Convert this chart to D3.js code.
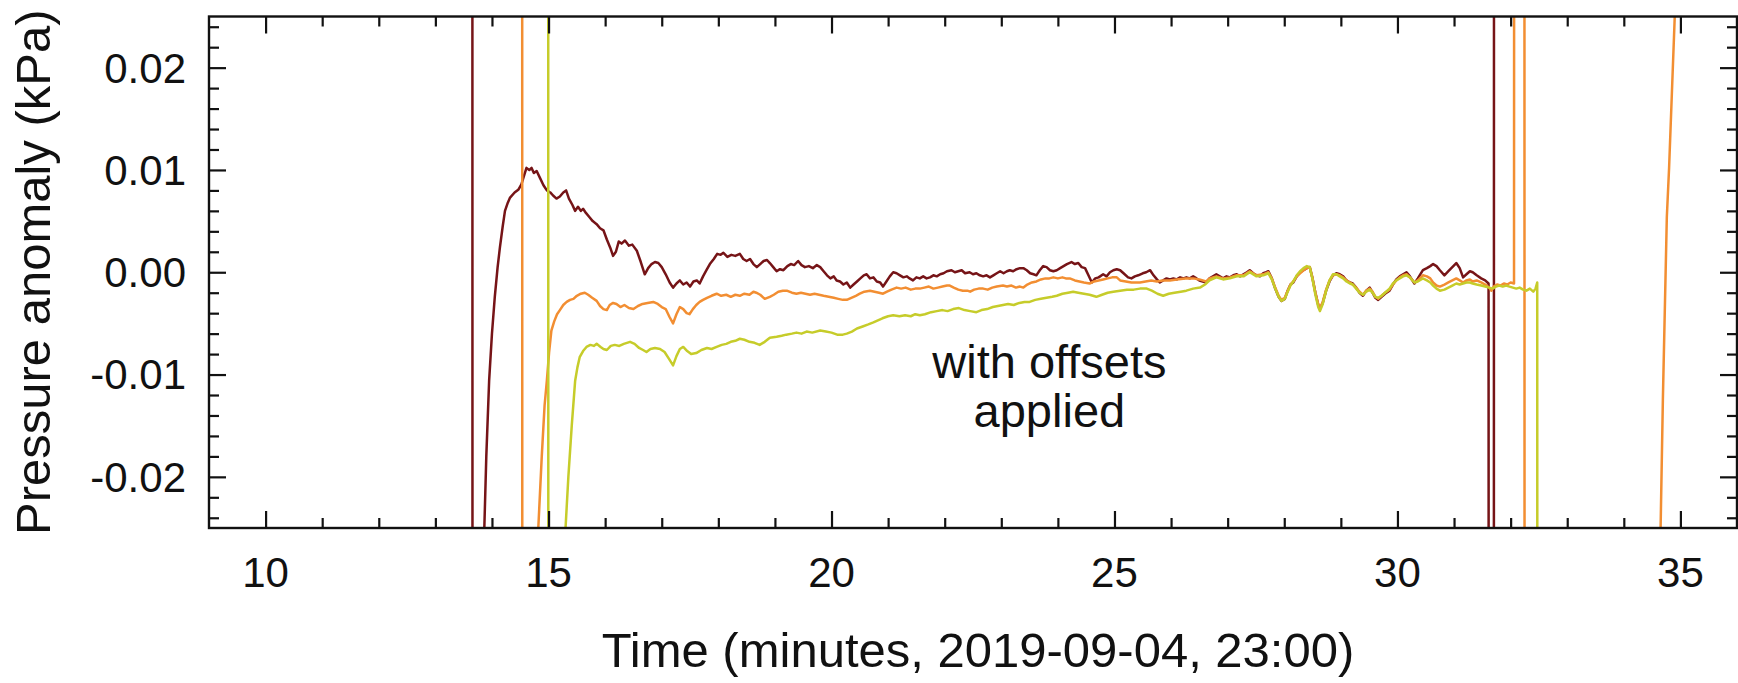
<!DOCTYPE html>
<html><head><meta charset="utf-8">
<script src="https://cdn.jsdelivr.net/npm/d3@7"></script>
<style>
html,body{margin:0;padding:0;background:#fff;}
text{font-family:"Liberation Sans",Arial,sans-serif;fill:#111;}
</style></head>
<body><svg id="chart" width="1738" height="683"></svg>
<script>
// ---- data (time in minutes after 23:00, pressure anomaly in kPa) ----
// values beyond +/-0.2 represent off-scale raw data (clipped by the plot frame)
const xTickValues = [10, 15, 20, 25, 30, 35];
const yTickValues = [-0.02, -0.01, 0.00, 0.01, 0.02];
const xTickLabels = ["10", "15", "20", "25", "30", "35"];
const yTickLabels = ["-0.02", "-0.01", "0.00", "0.01", "0.02"];
const seriesNames = ["sensor A", "sensor B", "sensor C"];
const seriesColors = ["#761417", "#f28e32", "#c6cc2a"];
const annotationLines = ["with offsets", "applied"];

const timeA = [12.5,13.65,13.66,13.80,13.86,13.90,13.95,14.00,14.05,14.10,14.14,14.19,14.23,14.28,14.32,14.40,14.47,14.52,14.57,14.61,14.66,14.70,14.74,14.79,14.85,14.91,14.97,15.03,15.08,15.14,15.20,15.26,15.31,15.36,15.42,15.47,15.52,15.57,15.61,15.66,15.72,15.78,15.85,15.91,15.97,16.03,16.09,16.14,16.19,16.24,16.29,16.35,16.42,16.48,16.56,16.63,16.70,16.76,16.82,16.88,16.94,17.00,17.07,17.14,17.20,17.26,17.32,17.38,17.44,17.50,17.56,17.62,17.67,17.73,17.79,17.85,17.92,17.98,18.04,18.09,18.16,18.23,18.30,18.38,18.44,18.50,18.56,18.62,18.68,18.74,18.80,18.86,18.91,18.97,19.03,19.09,19.15,19.22,19.28,19.34,19.41,19.47,19.53,19.60,19.67,19.74,19.80,19.86,19.92,19.98,20.04,20.09,20.15,20.21,20.27,20.33,20.39,20.45,20.51,20.57,20.62,20.68,20.74,20.80,20.86,20.91,20.97,21.03,21.09,21.15,21.21,21.27,21.33,21.38,21.44,21.50,21.56,21.62,21.68,21.74,21.80,21.86,21.92,21.98,22.04,22.12,22.18,22.24,22.30,22.36,22.44,22.50,22.56,22.62,22.68,22.74,22.80,22.86,22.92,22.98,23.04,23.10,23.15,23.21,23.27,23.33,23.39,23.45,23.51,23.57,23.62,23.68,23.74,23.80,23.86,23.92,23.98,24.04,24.10,24.16,24.24,24.30,24.36,24.42,24.48,24.54,24.60,24.66,24.72,24.80,24.86,24.92,24.98,25.04,25.10,25.16,25.24,25.30,25.36,25.42,25.50,25.56,25.63,25.69,25.75,25.80,25.86,25.92,25.98,26.04,26.10,26.16,26.22,26.27,26.33,26.39,26.45,26.50,26.56,26.62,26.68,26.74,26.80,26.86,26.92,26.98,27.04,27.10,27.16,27.22,27.28,27.34,27.39,27.45,27.51,27.57,27.63,27.68,27.72,27.78,27.84,27.90,27.95,28.01,28.06,28.11,28.16,28.22,28.28,28.34,28.40,28.45,28.50,28.55,28.60,28.63,28.68,28.74,28.80,28.86,28.92,28.98,29.04,29.10,29.16,29.21,29.27,29.33,29.39,29.45,29.51,29.56,29.61,29.66,29.72,29.78,29.86,29.92,29.98,30.04,30.10,30.16,30.22,30.30,30.36,30.45,30.52,30.58,30.63,30.69,30.75,30.83,30.90,30.97,31.04,31.10,31.16,31.22,31.28,31.33,31.40,31.48,31.55,31.61,31.62,31.70,31.71,33.0];
const valueA = [0.2,0.2,-0.2,-0.2,-0.026,-0.018,-0.0106,-0.006,-0.0024,0.0005,0.0024,0.0045,0.0060,0.0068,0.0073,0.0078,0.0081,0.0086,0.0095,0.0102,0.0100,0.0102,0.0097,0.0099,0.0092,0.0085,0.0080,0.0078,0.0075,0.0072,0.0074,0.0078,0.0080,0.0072,0.0066,0.0060,0.0064,0.0060,0.0062,0.0058,0.0054,0.0050,0.0047,0.0043,0.0041,0.0032,0.0024,0.0016,0.0020,0.0030,0.0028,0.0031,0.0026,0.0027,0.0021,0.0010,-0.0002,0.0004,0.0008,0.0010,0.0009,0.0005,-0.0002,-0.0010,-0.0015,-0.0011,-0.0008,-0.0012,-0.0010,-0.0014,-0.0009,-0.0008,-0.0011,-0.0004,0.0002,0.0008,0.0013,0.0018,0.0017,0.0019,0.0015,0.0017,0.0016,0.0018,0.0013,0.0011,0.0013,0.0008,0.0005,0.0008,0.0011,0.0012,0.0009,0.0005,0.0001,0.0003,0.0002,0.0006,0.0008,0.0007,0.0011,0.0007,0.0005,0.0006,0.0004,0.0007,0.0005,0.0001,-0.0003,-0.0006,-0.0004,-0.0008,-0.0009,-0.0012,-0.0010,-0.0015,-0.0012,-0.0009,-0.0006,-0.0003,-0.0002,-0.0006,-0.0005,-0.0009,-0.0010,-0.0014,-0.0009,-0.0004,0.0000,-0.0001,-0.0003,-0.0005,-0.0004,-0.0006,-0.0008,-0.0005,-0.0006,-0.0004,-0.0006,-0.0005,-0.0003,-0.0004,-0.0002,-0.0001,0.0001,0.0002,0.0000,0.0001,0.0002,-0.0001,0.0000,-0.0002,-0.0001,-0.0003,-0.0004,-0.0003,-0.0005,-0.0003,-0.0001,0.0001,-0.0001,0.0001,0.0002,0.0001,0.0003,0.0004,0.0004,0.0002,-0.0001,-0.0002,-0.0003,0.0002,0.0006,0.0005,0.0002,0.0001,0.0002,0.0004,0.0006,0.0008,0.0010,0.0008,0.0009,0.0005,0.0004,-0.0003,-0.0010,-0.0006,-0.0005,-0.0002,-0.0004,0.0000,0.0002,0.0003,0.0002,-0.0001,-0.0005,-0.0006,-0.0004,-0.0003,-0.0001,0.0000,0.0002,-0.0003,-0.0007,-0.0010,-0.0008,-0.0006,-0.0007,-0.0006,-0.0007,-0.0005,-0.0006,-0.0005,-0.0006,-0.0004,-0.0006,-0.0008,-0.0009,-0.0010,-0.0006,-0.0004,-0.0002,-0.0004,-0.0006,-0.0004,-0.0005,-0.0003,-0.0002,-0.0004,-0.0002,0.0000,0.0002,-0.0001,-0.0003,-0.0004,-0.0001,0.0000,0.0001,-0.0006,-0.0016,-0.0024,-0.0028,-0.0026,-0.0018,-0.0012,-0.0010,-0.0004,0.0000,0.0002,0.0004,0.0005,-0.0006,-0.0020,-0.0032,-0.0036,-0.0030,-0.0018,-0.0009,-0.0003,-0.0001,-0.0002,-0.0004,-0.0008,-0.0010,-0.0011,-0.0015,-0.0020,-0.0023,-0.0018,-0.0015,-0.0020,-0.0025,-0.0027,-0.0024,-0.0021,-0.0018,-0.0012,-0.0007,-0.0004,-0.0002,0.0000,-0.0004,-0.0011,-0.0006,0.0002,0.0004,0.0006,0.0008,0.0006,0.0002,-0.0003,0.0001,0.0005,0.0009,0.0004,-0.0005,-0.0002,0.0001,0.0000,-0.0003,-0.0006,-0.0008,-0.0011,-0.2,-0.2,0.2,0.2];

const timeB = [13.5,14.53,14.54,14.75,14.81,14.88,14.93,14.97,15.01,15.05,15.10,15.15,15.20,15.26,15.32,15.38,15.44,15.50,15.57,15.64,15.70,15.77,15.85,15.91,15.97,16.03,16.08,16.14,16.20,16.27,16.34,16.42,16.50,16.58,16.66,16.75,16.85,16.93,17.00,17.07,17.14,17.20,17.26,17.32,17.38,17.44,17.49,17.55,17.61,17.67,17.73,17.80,17.88,17.97,18.05,18.14,18.22,18.30,18.38,18.46,18.55,18.62,18.67,18.74,18.82,18.91,18.98,19.06,19.14,19.21,19.30,19.38,19.46,19.54,19.62,19.70,19.78,19.86,19.95,20.04,20.12,20.20,20.27,20.35,20.43,20.50,20.58,20.68,20.76,20.84,20.91,20.98,21.06,21.15,21.23,21.31,21.40,21.48,21.56,21.64,21.72,21.80,21.88,21.96,22.04,22.09,22.16,22.24,22.32,22.40,22.45,22.52,22.60,22.68,22.76,22.84,22.92,23.03,23.10,23.18,23.26,23.33,23.39,23.46,23.54,23.62,23.70,23.78,23.85,23.92,24.00,24.08,24.14,24.21,24.30,24.38,24.46,24.56,24.64,24.72,24.80,24.88,24.96,25.04,25.10,25.20,25.30,25.45,25.55,25.65,25.75,25.85,25.98,26.10,26.25,26.39,26.50,26.62,26.68,26.80,26.92,27.04,27.16,27.28,27.39,27.51,27.63,27.72,27.78,27.84,27.90,27.95,28.01,28.06,28.11,28.16,28.22,28.28,28.34,28.40,28.45,28.50,28.55,28.60,28.63,28.68,28.74,28.80,28.86,28.92,28.98,29.04,29.10,29.16,29.21,29.27,29.33,29.39,29.45,29.51,29.56,29.61,29.66,29.72,29.78,29.86,29.92,29.98,30.04,30.10,30.16,30.22,30.30,30.36,30.45,30.52,30.58,30.63,30.69,30.75,30.83,30.90,30.97,31.04,31.10,31.16,31.22,31.28,31.33,31.40,31.48,31.55,31.62,31.66,31.70,31.76,31.82,31.88,31.94,32.00,32.06,32.07,32.24,32.25,34.50,34.65,34.69,34.76,34.80,34.90,35.00];
const valueB = [0.2,0.2,-0.2,-0.2,-0.026,-0.018,-0.013,-0.0106,-0.0078,-0.0057,-0.0048,-0.0041,-0.0037,-0.0032,-0.0029,-0.0027,-0.0026,-0.0023,-0.0021,-0.0020,-0.0022,-0.0025,-0.0028,-0.0033,-0.0036,-0.0037,-0.0032,-0.0030,-0.0031,-0.0034,-0.0032,-0.0035,-0.0036,-0.0033,-0.0031,-0.0030,-0.0029,-0.0031,-0.0034,-0.0036,-0.0044,-0.0050,-0.0041,-0.0034,-0.0036,-0.0040,-0.0041,-0.0036,-0.0032,-0.0029,-0.0027,-0.0025,-0.0023,-0.0021,-0.0023,-0.0022,-0.0024,-0.0022,-0.0023,-0.0021,-0.0022,-0.0019,-0.0020,-0.0022,-0.0026,-0.0024,-0.0022,-0.0019,-0.0018,-0.0018,-0.0020,-0.0021,-0.0020,-0.0021,-0.0022,-0.0021,-0.0022,-0.0023,-0.0024,-0.0025,-0.0026,-0.0027,-0.0027,-0.0025,-0.0023,-0.0021,-0.0019,-0.0018,-0.0019,-0.0020,-0.0021,-0.0019,-0.0017,-0.0015,-0.0016,-0.0015,-0.0017,-0.0016,-0.0016,-0.0015,-0.0014,-0.0016,-0.0015,-0.0014,-0.0013,-0.0013,-0.0015,-0.0017,-0.0018,-0.0018,-0.0019,-0.0017,-0.0016,-0.0016,-0.0017,-0.0015,-0.0014,-0.0013,-0.0014,-0.0013,-0.0015,-0.0014,-0.0015,-0.0012,-0.0010,-0.0009,-0.0007,-0.0006,-0.0006,-0.0005,-0.0006,-0.0005,-0.0006,-0.0006,-0.0008,-0.0009,-0.0010,-0.0011,-0.0009,-0.0008,-0.0007,-0.0006,-0.0005,-0.0005,-0.0008,-0.0009,-0.0010,-0.0010,-0.0009,-0.0008,-0.0009,-0.0008,-0.0008,-0.0007,-0.0006,-0.0006,-0.0007,-0.0009,-0.0006,-0.0004,-0.0006,-0.0005,-0.0003,-0.0003,0.0001,-0.0003,-0.0002,0.0000,-0.0006,-0.0015,-0.0023,-0.0027,-0.0025,-0.0018,-0.0012,-0.0009,-0.0004,-0.0001,0.0002,0.0004,0.0005,-0.0006,-0.0020,-0.0031,-0.0035,-0.0029,-0.0017,-0.0008,-0.0003,-0.0002,-0.0003,-0.0005,-0.0008,-0.0010,-0.0012,-0.0015,-0.0019,-0.0022,-0.0018,-0.0016,-0.0019,-0.0024,-0.0026,-0.0023,-0.0020,-0.0017,-0.0012,-0.0008,-0.0005,-0.0003,-0.0002,-0.0005,-0.0010,-0.0008,-0.0003,-0.0004,-0.0006,-0.0010,-0.0013,-0.0014,-0.0012,-0.0010,-0.0008,-0.0006,-0.0008,-0.0010,-0.0008,-0.0007,-0.0009,-0.0008,-0.0010,-0.0012,-0.0015,-0.0018,-0.0014,-0.0012,-0.0013,-0.0011,-0.0012,-0.0010,-0.0011,0.2,0.2,-0.2,-0.2,-0.025,-0.0125,0.0054,0.0102,0.025,0.05];

const timeC = [14.0,14.99,15.00,15.20,15.29,15.35,15.41,15.47,15.51,15.55,15.61,15.67,15.74,15.80,15.85,15.92,15.97,16.03,16.10,16.17,16.25,16.33,16.44,16.52,16.60,16.67,16.73,16.80,16.88,16.97,17.05,17.12,17.20,17.26,17.32,17.38,17.45,17.52,17.61,17.70,17.80,17.88,17.97,18.06,18.14,18.22,18.30,18.38,18.46,18.55,18.64,18.73,18.82,18.91,19.03,19.12,19.20,19.30,19.38,19.47,19.56,19.66,19.80,19.90,20.00,20.10,20.20,20.27,20.36,20.45,20.55,20.65,20.74,20.82,20.90,21.00,21.09,21.20,21.30,21.40,21.48,21.56,21.65,21.76,21.86,21.96,22.05,22.15,22.25,22.35,22.45,22.56,22.65,22.75,22.85,22.94,23.03,23.12,23.22,23.32,23.41,23.50,23.60,23.70,23.80,23.90,23.98,24.08,24.18,24.27,24.36,24.46,24.56,24.68,24.78,24.88,24.98,25.10,25.22,25.34,25.45,25.57,25.66,25.76,25.86,25.96,26.06,26.17,26.27,26.39,26.51,26.60,26.68,26.80,26.92,27.04,27.16,27.28,27.39,27.51,27.63,27.72,27.78,27.84,27.90,27.95,28.01,28.06,28.11,28.16,28.22,28.28,28.34,28.40,28.45,28.50,28.55,28.60,28.63,28.68,28.74,28.80,28.86,28.92,28.98,29.04,29.10,29.16,29.21,29.27,29.33,29.39,29.45,29.51,29.56,29.61,29.66,29.72,29.78,29.86,29.92,29.98,30.04,30.10,30.16,30.22,30.30,30.36,30.45,30.52,30.58,30.63,30.69,30.75,30.83,30.90,30.97,31.04,31.10,31.16,31.22,31.28,31.33,31.40,31.48,31.55,31.62,31.68,31.74,31.80,31.86,31.92,31.98,32.04,32.10,32.16,32.22,32.28,32.34,32.40,32.44,32.47,32.48,33.0];
const valueC = [0.2,0.2,-0.2,-0.2,-0.026,-0.020,-0.015,-0.0106,-0.0093,-0.0083,-0.0077,-0.0073,-0.0071,-0.0072,-0.0070,-0.0073,-0.0075,-0.0076,-0.0072,-0.0071,-0.0072,-0.0070,-0.0068,-0.0070,-0.0074,-0.0076,-0.0078,-0.0075,-0.0074,-0.0075,-0.0078,-0.0084,-0.0091,-0.0082,-0.0075,-0.0073,-0.0077,-0.0080,-0.0079,-0.0076,-0.0074,-0.0075,-0.0073,-0.0071,-0.0070,-0.0068,-0.0067,-0.0065,-0.0066,-0.0068,-0.0069,-0.0071,-0.0068,-0.0064,-0.0063,-0.0062,-0.0061,-0.0060,-0.0059,-0.0060,-0.0058,-0.0059,-0.0057,-0.0058,-0.0059,-0.0061,-0.0061,-0.0060,-0.0058,-0.0055,-0.0053,-0.0051,-0.0049,-0.0047,-0.0045,-0.0043,-0.0042,-0.0043,-0.0042,-0.0043,-0.0041,-0.0042,-0.0041,-0.0039,-0.0038,-0.0037,-0.0038,-0.0036,-0.0035,-0.0037,-0.0038,-0.0039,-0.0037,-0.0036,-0.0034,-0.0033,-0.0032,-0.0031,-0.0032,-0.0030,-0.0029,-0.0029,-0.0027,-0.0026,-0.0025,-0.0024,-0.0023,-0.0021,-0.0020,-0.0019,-0.0020,-0.0021,-0.0022,-0.0024,-0.0022,-0.0020,-0.0019,-0.0018,-0.0017,-0.0017,-0.0016,-0.0016,-0.0018,-0.0021,-0.0023,-0.0021,-0.0020,-0.0019,-0.0018,-0.0016,-0.0015,-0.0012,-0.0008,-0.0005,-0.0007,-0.0006,-0.0004,-0.0004,0.0000,-0.0004,-0.0003,-0.0001,-0.0007,-0.0016,-0.0024,-0.0028,-0.0026,-0.0019,-0.0013,-0.0009,-0.0003,0.0001,0.0004,0.0006,0.0005,-0.0007,-0.0022,-0.0034,-0.0038,-0.0031,-0.0018,-0.0008,-0.0002,-0.0002,-0.0004,-0.0006,-0.0009,-0.0011,-0.0012,-0.0016,-0.0020,-0.0022,-0.0019,-0.0017,-0.0020,-0.0024,-0.0025,-0.0023,-0.0020,-0.0016,-0.0011,-0.0008,-0.0006,-0.0004,-0.0003,-0.0005,-0.0010,-0.0009,-0.0006,-0.0008,-0.0010,-0.0013,-0.0016,-0.0018,-0.0017,-0.0015,-0.0013,-0.0011,-0.0012,-0.0011,-0.0010,-0.0010,-0.0011,-0.0012,-0.0013,-0.0014,-0.0015,-0.0016,-0.0014,-0.0013,-0.0014,-0.0013,-0.0014,-0.0015,-0.0016,-0.0015,-0.0017,-0.0018,-0.0016,-0.0019,-0.0016,-0.0010,-0.2,-0.2];

const xDomain = [9, 36];
const yDomain = [-0.025, 0.025];

// ---- layout ----
const W = 1738, H = 683;
const plot = {left: 209, right: 1737, top: 16.5, bottom: 528};

const svg = d3.select("#chart");
const x = d3.scaleLinear().domain(xDomain).range([plot.left, plot.right]);
const y = d3.scaleLinear().domain(yDomain).range([plot.bottom, plot.top]);

svg.append("defs").append("clipPath").attr("id", "clip")
  .append("rect").attr("x", plot.left).attr("y", plot.top)
  .attr("width", plot.right - plot.left).attr("height", plot.bottom - plot.top);

const series = [
  {name: seriesNames[0], color: seriesColors[0], t: timeA, v: valueA},
  {name: seriesNames[1], color: seriesColors[1], t: timeB, v: valueB},
  {name: seriesNames[2], color: seriesColors[2], t: timeC, v: valueC}
];

const line = d3.line().x(d => x(d[0])).y(d => y(d[1]));
const gLines = svg.append("g").attr("clip-path", "url(#clip)");
series.forEach(s => {
  const pts = s.t.map((t, i) => [t, s.v[i]]);
  gLines.append("path").datum(pts)
    .attr("d", line)
    .attr("fill", "none")
    .attr("stroke", s.color)
    .attr("stroke-width", 2.5)
    .attr("stroke-linejoin", "round");
});

// ---- axes (ticks pointing inward on all four sides) ----
const xMinor = d3.range(10, 36, 1).filter(v => v % 5 !== 0);
const yMinor = d3.range(-24, 25, 2).map(v => v / 1000).filter(v => Math.abs(Math.round(v * 1000)) % 10 !== 0);
const axisStyle = g => {
  g.select(".domain").remove();
  g.selectAll("line").attr("stroke", "#111").attr("stroke-width", 2.2);
  g.selectAll("text").remove();
};
const majLen = 17, minLen = 10;

svg.append("g").attr("transform", `translate(0,${plot.bottom})`)
  .call(d3.axisTop(x).tickValues(xTickValues).tickSize(majLen)).call(axisStyle);
svg.append("g").attr("transform", `translate(0,${plot.bottom})`)
  .call(d3.axisTop(x).tickValues(xMinor).tickSize(minLen)).call(axisStyle);
svg.append("g").attr("transform", `translate(0,${plot.top})`)
  .call(d3.axisBottom(x).tickValues(xTickValues).tickSize(majLen)).call(axisStyle);
svg.append("g").attr("transform", `translate(0,${plot.top})`)
  .call(d3.axisBottom(x).tickValues(xMinor).tickSize(minLen)).call(axisStyle);
svg.append("g").attr("transform", `translate(${plot.left},0)`)
  .call(d3.axisRight(y).tickValues(yTickValues).tickSize(majLen)).call(axisStyle);
svg.append("g").attr("transform", `translate(${plot.left},0)`)
  .call(d3.axisRight(y).tickValues(yMinor).tickSize(minLen)).call(axisStyle);
svg.append("g").attr("transform", `translate(${plot.right},0)`)
  .call(d3.axisLeft(y).tickValues(yTickValues).tickSize(majLen)).call(axisStyle);
svg.append("g").attr("transform", `translate(${plot.right},0)`)
  .call(d3.axisLeft(y).tickValues(yMinor).tickSize(minLen)).call(axisStyle);

// frame
svg.append("rect").attr("x", plot.left).attr("y", plot.top)
  .attr("width", plot.right - plot.left).attr("height", plot.bottom - plot.top)
  .attr("fill", "none").attr("stroke", "#111").attr("stroke-width", 2.4);

// tick labels
const tickFont = 42;
svg.append("g").selectAll("text").data(xTickValues).join("text")
  .attr("x", d => x(d)).attr("y", 587)
  .attr("text-anchor", "middle").attr("font-size", tickFont)
  .text((d, i) => xTickLabels[i]);
svg.append("g").selectAll("text").data(yTickValues).join("text")
  .attr("x", 186).attr("y", d => y(d)).attr("dy", "0.355em")
  .attr("text-anchor", "end").attr("font-size", tickFont)
  .text((d, i) => yTickLabels[i]);

// axis titles
svg.append("text").attr("x", 978).attr("y", 667)
  .attr("text-anchor", "middle").attr("font-size", 49)
  .text("Time (minutes, 2019-09-04, 23:00)");
svg.append("text").attr("transform", `translate(50,${(plot.top + plot.bottom) / 2}) rotate(-90)`)
  .attr("text-anchor", "middle").attr("font-size", 49)
  .text("Pressure anomaly (kPa)");

// annotation
svg.append("g").selectAll("text").data(annotationLines).join("text")
  .attr("x", x(23.85)).attr("y", (d, i) => 378 + i * 49)
  .attr("text-anchor", "middle").attr("font-size", 47)
  .text(d => d);
</script></body></html>
